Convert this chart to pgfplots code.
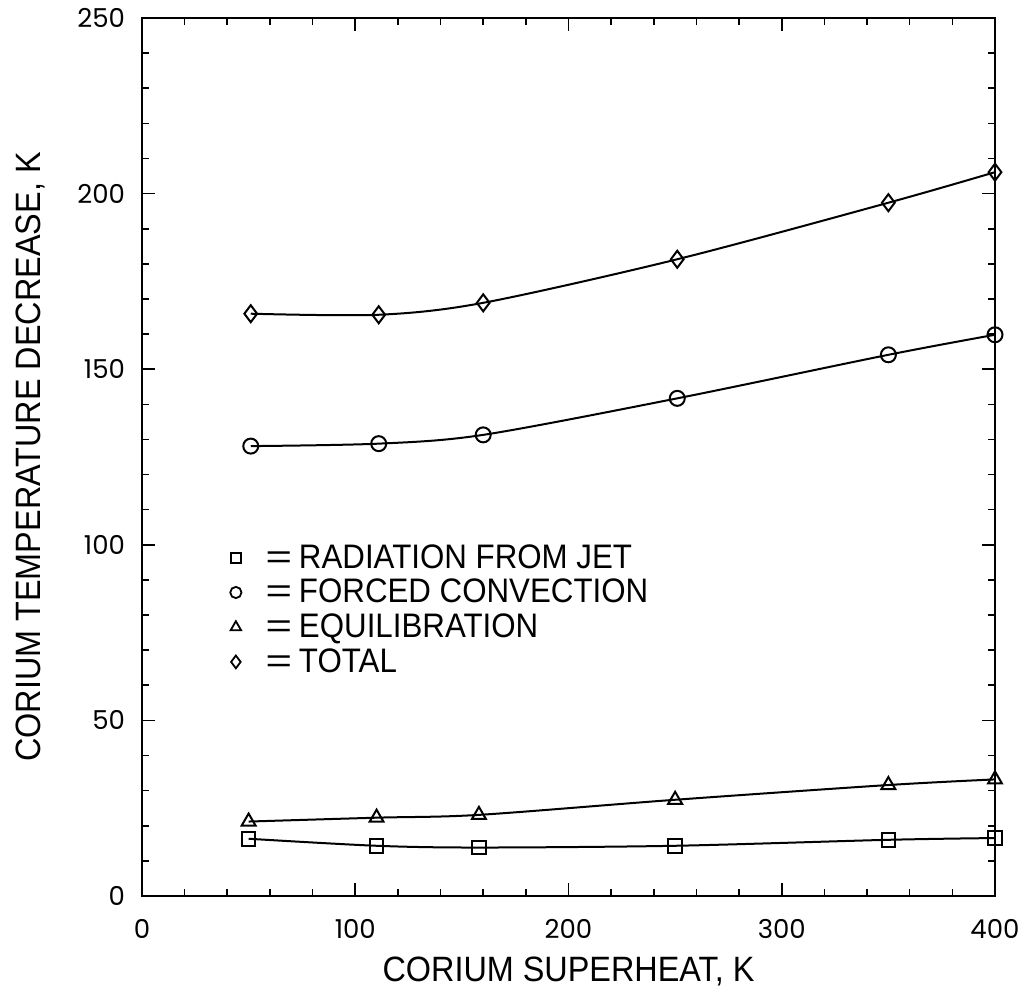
\documentclass[border=0pt]{standalone}
\usepackage{graphicx}
\usepackage{pgfplots}
\pgfplotsset{compat=1.18}
\usepackage{fontspec}
\setmainfont{Liberation Sans}[FakeStretch=0.92]
\newfontfamily\tickfont{Poppins}
\newcommand{\legeq}{\hspace{11bp}\scalebox{1.45}[1]{=}\hspace{3.5bp}}
\begin{document}
\begin{tikzpicture}
\begin{axis}[
  name=ax,
  scale only axis,
  width=426.5bp, height=439bp,
  xmin=0, xmax=400, ymin=0, ymax=250,
  xtick={0,100,200,300,400},
  ytick={0,50,100,150,200,250},
  minor x tick num=4, minor y tick num=4,
  tick align=inside,
  major tick length=6.5bp, minor tick length=3.5bp,
  every tick/.style={black, line width=0.8bp},
  axis line style={line width=1bp},
  /pgf/number format/assume math mode=true,
  tick label style={font=\fontsize{13bp}{15bp}\tickfont},
  xticklabel style={yshift=-8bp},
  yticklabel style={xshift=-5bp},
  xlabel={CORIUM SUPERHEAT, K},
  ylabel={CORIUM TEMPERATURE DECREASE, K},
  label style={font=\fontsize{17.6bp}{20bp}\selectfont},
  xlabel style={at={(axis description cs:0.5,-0.086)}, anchor=center},
  ylabel style={at={(axis description cs:-0.131,0.5)}, anchor=center},
  legend style={at={(axis cs:41.2,100.8)}, anchor=north west, draw=none, fill=none,
    inner sep=0pt, row sep=2bp, font=\fontsize{17bp}{20bp}\selectfont,
    nodes={inner sep=1bp}},
  legend cell align=left,
  legend image post style={mark options={scale=0.75, line width=0.9bp, solid}},
]
\coordinate (bl) at (rel axis cs:0,0);
\coordinate (tr) at (rel axis cs:1,1);
% curves
\addplot[black, line width=1bp, smooth, forget plot] coordinates {
 (50,16.3) (110,14.3) (158,13.8) (250,14.3) (350,16.0) (400,16.5)};
\addplot[black, line width=1bp, smooth, forget plot] coordinates {
 (51,128.1) (111,128.8) (160,131.3) (251,141.7) (350,154.1) (400,159.8)};
\addplot[black, line width=1bp, smooth, forget plot] coordinates {
 (50,21.2) (110,22.3) (158,23.1) (250,27.4) (350,31.6) (400,33.2)};
\addplot[black, line width=1bp, smooth, forget plot] coordinates {
 (51,165.8) (111,165.5) (160,168.9) (251,181.3) (350,197.4) (400,206.1)};
% marks
\addplot[only marks, black, mark=square, mark size=3.4bp, mark options={line width=1bp, fill=white}] coordinates {
 (50,16.3) (110,14.3) (158,13.8) (250,14.3) (350,16.0) (400,16.5)};
\addlegendentry{\legeq RADIATION FROM JET}
\addplot[only marks, black, mark=o, mark size=3.75bp, mark options={line width=1bp}] coordinates {
 (51,128.1) (111,128.8) (160,131.3) (251,141.7) (350,154.1) (400,159.8)};
\addlegendentry{\legeq FORCED CONVECTION}
\addplot[only marks, black, mark=triangle, mark size=4bp, mark options={line width=1bp}] coordinates {
 (50,21.2) (110,22.3) (158,23.1) (250,27.4) (350,31.6) (400,33.2)};
\addlegendentry{\legeq EQUILIBRATION}
\addplot[only marks, black, mark=diamond, mark size=4.25bp, mark options={line width=1bp}] coordinates {
 (51,165.8) (111,165.5) (160,168.9) (251,181.3) (350,197.4) (400,206.1)};
\addlegendentry{\legeq TOTAL}
\end{axis}
\pgfresetboundingbox
\path[use as bounding box] ([xshift=-71bp,yshift=-46.25bp]bl) rectangle ([xshift=14.5bp,yshift=9bp]tr);
\end{tikzpicture}
\end{document}
